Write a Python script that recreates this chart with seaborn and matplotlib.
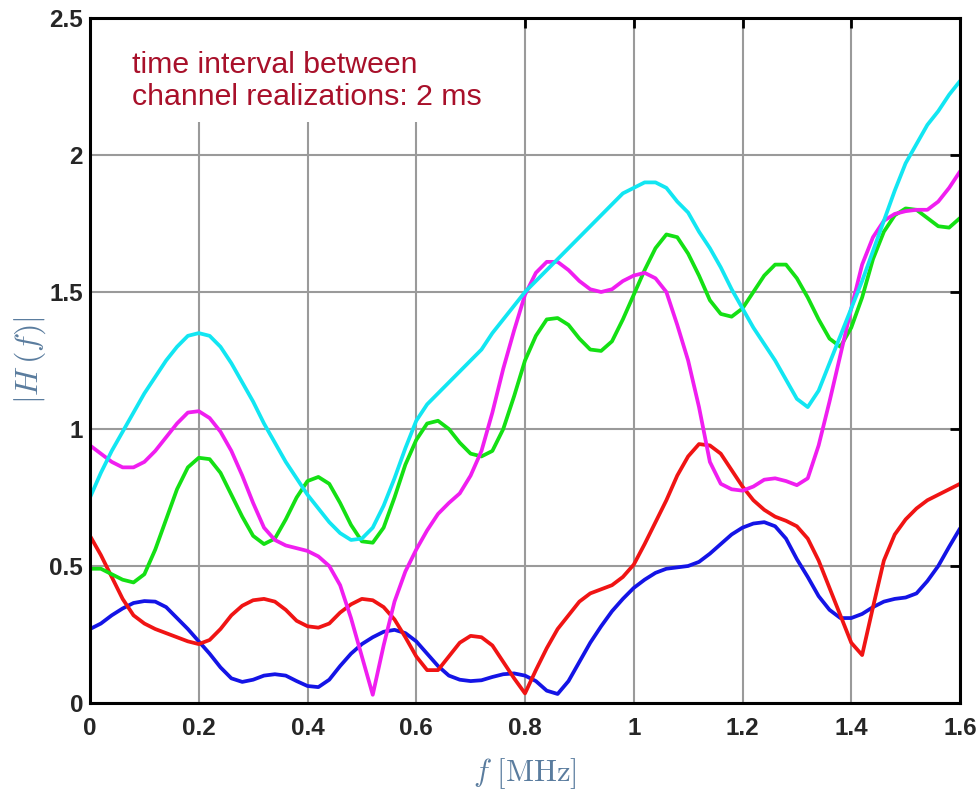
import numpy as np
import pandas as pd
import matplotlib
matplotlib.use("Agg")
import matplotlib.pyplot as plt
from matplotlib.patches import Rectangle
import seaborn as sns

# Frequency axis [MHz], sampled every 0.02 MHz
freq_mhz = np.round(np.arange(0, 81) * 0.02, 2)

# |H(f)| for five channel realizations
h_cyan = [0.75, 0.84, 0.92, 0.99, 1.06, 1.13, 1.19, 1.25, 1.30, 1.34,
          1.35, 1.34, 1.30, 1.24, 1.17, 1.10, 1.02, 0.95, 0.88, 0.82,
          0.76, 0.71, 0.66, 0.62, 0.595, 0.60, 0.64, 0.72, 0.82, 0.93,
          1.03, 1.09, 1.13, 1.17, 1.21, 1.25, 1.29, 1.35, 1.40, 1.45,
          1.50, 1.54, 1.58, 1.62, 1.66, 1.70, 1.74, 1.78, 1.82, 1.86,
          1.88, 1.90, 1.90, 1.88, 1.83, 1.79, 1.72, 1.66, 1.59, 1.51,
          1.44, 1.37, 1.31, 1.25, 1.18, 1.11, 1.08, 1.14, 1.24, 1.34,
          1.44, 1.54, 1.65, 1.76, 1.87, 1.97, 2.04, 2.11, 2.16, 2.22,
          2.27]

h_magenta = [0.94, 0.91, 0.88, 0.86, 0.86, 0.88, 0.92, 0.97, 1.02, 1.06,
             1.065, 1.04, 0.99, 0.92, 0.83, 0.73, 0.64, 0.595, 0.575, 0.565,
             0.555, 0.535, 0.50, 0.43, 0.31, 0.17, 0.03, 0.21, 0.37, 0.48,
             0.56, 0.63, 0.69, 0.73, 0.765, 0.83, 0.92, 1.06, 1.22, 1.36,
             1.49, 1.57, 1.61, 1.61, 1.58, 1.54, 1.51, 1.50, 1.51, 1.54,
             1.56, 1.57, 1.55, 1.50, 1.38, 1.25, 1.08, 0.88, 0.80, 0.78,
             0.775, 0.79, 0.815, 0.82, 0.81, 0.795, 0.82, 0.94, 1.10, 1.27,
             1.44, 1.60, 1.70, 1.76, 1.785, 1.795, 1.80, 1.80, 1.83, 1.88,
             1.94]

h_green = [0.49, 0.49, 0.47, 0.45, 0.44, 0.47, 0.56, 0.67, 0.78, 0.86,
           0.895, 0.89, 0.84, 0.76, 0.68, 0.61, 0.58, 0.60, 0.67, 0.75,
           0.81, 0.825, 0.80, 0.73, 0.65, 0.59, 0.585, 0.64, 0.75, 0.87,
           0.96, 1.02, 1.03, 1.00, 0.95, 0.91, 0.90, 0.92, 1.00, 1.12,
           1.25, 1.34, 1.40, 1.405, 1.38, 1.33, 1.29, 1.285, 1.32, 1.40,
           1.49, 1.58, 1.66, 1.71, 1.70, 1.64, 1.56, 1.47, 1.42, 1.41,
           1.44, 1.50, 1.56, 1.60, 1.60, 1.55, 1.48, 1.40, 1.33, 1.30,
           1.37, 1.48, 1.62, 1.72, 1.78, 1.805, 1.80, 1.77, 1.74, 1.735,
           1.77]

h_red = [0.61, 0.54, 0.46, 0.38, 0.32, 0.29, 0.27, 0.255, 0.24, 0.225,
         0.215, 0.23, 0.27, 0.32, 0.355, 0.375, 0.38, 0.37, 0.34, 0.30,
         0.28, 0.275, 0.29, 0.33, 0.36, 0.38, 0.375, 0.35, 0.305, 0.24,
         0.17, 0.12, 0.12, 0.17, 0.22, 0.245, 0.24, 0.21, 0.15, 0.09,
         0.035, 0.12, 0.20, 0.27, 0.32, 0.37, 0.40, 0.415, 0.43, 0.46,
         0.505, 0.58, 0.66, 0.74, 0.83, 0.90, 0.945, 0.94, 0.91, 0.85,
         0.79, 0.74, 0.705, 0.68, 0.665, 0.645, 0.60, 0.52, 0.42, 0.32,
         0.22, 0.175, 0.35, 0.52, 0.615, 0.67, 0.71, 0.74, 0.76, 0.78,
         0.80]

h_blue = [0.27, 0.29, 0.32, 0.345, 0.365, 0.372, 0.37, 0.35, 0.31, 0.27,
          0.225, 0.18, 0.13, 0.09, 0.077, 0.085, 0.10, 0.105, 0.10, 0.08,
          0.062, 0.058, 0.085, 0.135, 0.18, 0.215, 0.24, 0.26, 0.267, 0.255,
          0.225, 0.18, 0.135, 0.10, 0.085, 0.08, 0.083, 0.095, 0.105, 0.108,
          0.10, 0.08, 0.045, 0.033, 0.08, 0.15, 0.22, 0.28, 0.335, 0.38,
          0.42, 0.45, 0.475, 0.49, 0.495, 0.50, 0.515, 0.545, 0.58, 0.615,
          0.64, 0.655, 0.66, 0.645, 0.60, 0.525, 0.46, 0.39, 0.34, 0.31,
          0.31, 0.325, 0.35, 0.37, 0.38, 0.385, 0.40, 0.445, 0.50, 0.57,
          0.637]

series = {"cyan": h_cyan, "magenta": h_magenta, "green": h_green,
          "red": h_red, "blue": h_blue}
palette = {"cyan": "#12e6f2", "magenta": "#f01ef0", "green": "#14e014",
           "red": "#f01414", "blue": "#1414e6"}

df = pd.concat(
    [pd.DataFrame({"f": freq_mhz, "H": vals, "realization": name})
     for name, vals in series.items()],
    ignore_index=True,
)

sns.set_theme(style="white")
plt.rcParams["font.family"] = ["Liberation Sans", "DejaVu Sans"]
plt.rcParams["mathtext.fontset"] = "cm"

fig = plt.figure(figsize=(9.8, 7.93), dpi=100)
ax = fig.add_axes([90 / 980, 1 - 703 / 793, 870 / 980, 685 / 793])

sns.lineplot(data=df, x="f", y="H", hue="realization",
             hue_order=["blue", "red", "green", "magenta", "cyan"],
             palette=palette, linewidth=2.7, sort=False, legend=False,
             estimator=None, ax=ax)
for ln in ax.get_lines():
    ln.set_solid_joinstyle("round")
    ln.set_solid_capstyle("round")

ax.set_xlim(0, 1.6)
ax.set_ylim(0, 2.5)
ax.set_xticks([0, 0.2, 0.4, 0.6, 0.8, 1.0, 1.2, 1.4, 1.6])
ax.set_xticklabels(["0", "0.2", "0.4", "0.6", "0.8", "1", "1.2", "1.4", "1.6"])
ax.set_yticks([0, 0.5, 1.0, 1.5, 2.0, 2.5])
ax.set_yticklabels(["0", "0.5", "1", "1.5", "2", "2.5"])

ax.set_axisbelow(True)
ax.grid(True, color="#9a9a9a", linewidth=1.5)

for sp in ax.spines.values():
    sp.set_visible(True)
    sp.set_color("black")
    sp.set_linewidth(2.2)

ax.tick_params(direction="in", top=True, right=True, length=7, width=2,
               color="black", labelsize=17.5)
ax.tick_params(axis="x", pad=10)
ax.tick_params(axis="y", pad=5)
for lab in ax.get_xticklabels() + ax.get_yticklabels():
    lab.set_fontweight("bold")

ax.set_xlabel(r"$f\ [\mathrm{MHz}]$", fontsize=22, color="#5a7c9e", labelpad=12)
ax.set_ylabel(r"$|H\,(f)|$", fontsize=23, color="#5a7c9e", labelpad=1)

# white panel behind the annotation, masking the grid
ax.add_patch(Rectangle((0, 0.848), 0.47, 0.152, transform=ax.transAxes,
                       facecolor="white", edgecolor="none", zorder=1.5))
ax.text(0.048, 0.952, "time interval between\nchannel realizations: 2 ms",
        transform=ax.transAxes, ha="left", va="top", fontsize=21.8,
        color="#a8102a", linespacing=1.2, zorder=3)

fig.savefig("out.png", dpi=100)
